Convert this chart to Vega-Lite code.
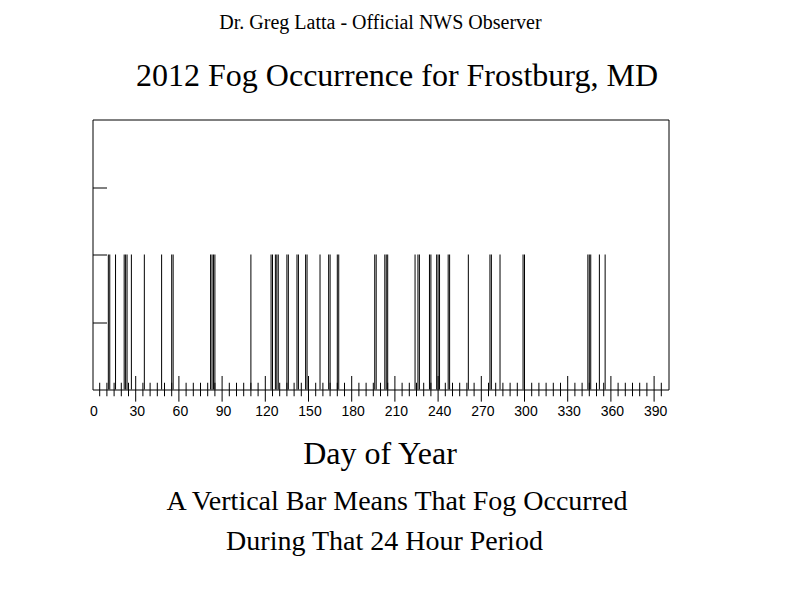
{
  "$schema": "https://vega.github.io/schema/vega-lite/v6.json",
  "width": 576,
  "height": 270,
  "autosize": "none",
  "padding": {"left": 92.5, "top": 119.5, "right": 117.5, "bottom": 218.5},
  "background": "white",
  "config": {
    "view": {"stroke": "black", "strokeWidth": 1, "fill": "white"},
    "axis": {"grid": false}
  },
  "title": {
    "text": "Dr. Greg Latta - Official NWS Observer",
    "font": "Liberation Serif",
    "fontSize": 20,
    "fontWeight": "normal",
    "color": "black",
    "offset": 26,
    "anchor": "middle",
    "frame": "group"
  },
  "datasets": {
    "fog": [
      {"day": 11}, {"day": 12}, {"day": 16}, {"day": 22}, {"day": 23}, {"day": 24}, {"day": 27},
      {"day": 36}, {"day": 48}, {"day": 55}, {"day": 56}, {"day": 82}, {"day": 83}, {"day": 84},
      {"day": 85}, {"day": 110}, {"day": 124}, {"day": 125}, {"day": 127}, {"day": 128}, {"day": 129},
      {"day": 135}, {"day": 136}, {"day": 142}, {"day": 143}, {"day": 148}, {"day": 149}, {"day": 158},
      {"day": 164}, {"day": 165}, {"day": 170}, {"day": 171}, {"day": 196}, {"day": 197}, {"day": 203},
      {"day": 204}, {"day": 205}, {"day": 224}, {"day": 226}, {"day": 227}, {"day": 234}, {"day": 235},
      {"day": 239}, {"day": 240}, {"day": 241}, {"day": 247}, {"day": 248}, {"day": 261}, {"day": 276},
      {"day": 277}, {"day": 283}, {"day": 299}, {"day": 300}, {"day": 344}, {"day": 345}, {"day": 346},
      {"day": 352}, {"day": 356}
    ],
    "minor": [
      {"day": 5}, {"day": 10}, {"day": 15}, {"day": 20}, {"day": 25},
      {"day": 35}, {"day": 40}, {"day": 45}, {"day": 50}, {"day": 55},
      {"day": 65}, {"day": 70}, {"day": 75}, {"day": 80}, {"day": 85},
      {"day": 95}, {"day": 100}, {"day": 105}, {"day": 110}, {"day": 115},
      {"day": 125}, {"day": 130}, {"day": 135}, {"day": 140}, {"day": 145},
      {"day": 155}, {"day": 160}, {"day": 165}, {"day": 170}, {"day": 175},
      {"day": 185}, {"day": 190}, {"day": 195}, {"day": 200}, {"day": 205},
      {"day": 215}, {"day": 220}, {"day": 225}, {"day": 230}, {"day": 235},
      {"day": 245}, {"day": 250}, {"day": 255}, {"day": 260}, {"day": 265},
      {"day": 275}, {"day": 280}, {"day": 285}, {"day": 290}, {"day": 295},
      {"day": 305}, {"day": 310}, {"day": 315}, {"day": 320}, {"day": 325},
      {"day": 335}, {"day": 340}, {"day": 345}, {"day": 350}, {"day": 355},
      {"day": 365}, {"day": 370}, {"day": 375}, {"day": 380}, {"day": 385},
      {"day": 395}
    ],
    "major": [
      {"day": 30}, {"day": 60}, {"day": 90}, {"day": 120}, {"day": 150}, {"day": 180}, {"day": 210},
      {"day": 240}, {"day": 270}, {"day": 300}, {"day": 330}, {"day": 360}, {"day": 390}
    ]
  },
  "layer": [
    {
      "data": {"name": "fog"},
      "mark": {"type": "rule", "color": "black", "strokeWidth": 1},
      "encoding": {
        "x": {
          "field": "day", "type": "quantitative",
          "scale": {"domain": [0, 400], "nice": false, "zero": false},
          "axis": {
            "orient": "bottom",
            "values": [0, 30, 60, 90, 120, 150, 180, 210, 240, 270, 300, 330, 360, 390],
            "ticks": false, "domain": false,
            "labelFont": "Liberation Sans", "labelFontSize": 14, "labelColor": "black",
            "labelPadding": 15, "labelFlush": false, "labelOffset": 1,
            "title": "Day of Year",
            "titleFont": "Liberation Serif", "titleFontSize": 32, "titleFontWeight": "normal", "titleColor": "black",
            "titleBaseline": "alphabetic", "titleY": 74, "titleX": 287, "titleAlign": "center"
          }
        },
        "y": {
          "datum": 0, "type": "quantitative",
          "scale": {"domain": [0, 4], "nice": false, "zero": false},
          "axis": {
            "values": [1, 2, 3], "tickSize": -14, "tickColor": "black", "labels": false, "domain": false,
            "title": "2012 Fog Occurrence for Frostburg, MD",
            "titleAngle": 0, "titleX": 304, "titleY": -34.5, "titleAlign": "center", "titleBaseline": "alphabetic",
            "titleFont": "Liberation Serif", "titleFontSize": 32, "titleFontWeight": "normal", "titleColor": "black"
          }
        },
        "y2": {"datum": 2}
      }
    },
    {
      "data": {"name": "minor"},
      "mark": {"type": "rule", "color": "black", "strokeWidth": 1},
      "encoding": {
        "x": {
          "field": "day", "type": "quantitative",
          "scale": {"domain": [0, 400], "nice": false, "zero": false},
          "axis": {
            "orient": "bottom", "labels": false, "ticks": false, "domain": false,
            "title": "A Vertical Bar Means That Fog Occurred",
            "titleFont": "Liberation Serif", "titleFontSize": 28, "titleFontWeight": "normal", "titleColor": "black",
            "titleBaseline": "alphabetic", "titleY": 120, "titleX": 304, "titleAlign": "center"
          }
        },
        "y": {
          "datum": -0.1, "type": "quantitative",
          "scale": {"domain": [0, 4], "nice": false, "zero": false}
        },
        "y2": {"datum": 0.1}
      }
    },
    {
      "data": {"name": "major"},
      "mark": {"type": "rule", "color": "black", "strokeWidth": 1},
      "encoding": {
        "x": {
          "field": "day", "type": "quantitative",
          "scale": {"domain": [0, 400], "nice": false, "zero": false},
          "axis": {
            "orient": "bottom", "labels": false, "ticks": false, "domain": false,
            "title": "During That 24 Hour Period",
            "titleFont": "Liberation Serif", "titleFontSize": 28, "titleFontWeight": "normal", "titleColor": "black",
            "titleBaseline": "alphabetic", "titleY": 160, "titleX": 291.5, "titleAlign": "center"
          }
        },
        "y": {
          "datum": -0.18, "type": "quantitative",
          "scale": {"domain": [0, 4], "nice": false, "zero": false}
        },
        "y2": {"datum": 0.2}
      }
    }
  ],
  "resolve": {"axis": {"x": "independent"}}
}
